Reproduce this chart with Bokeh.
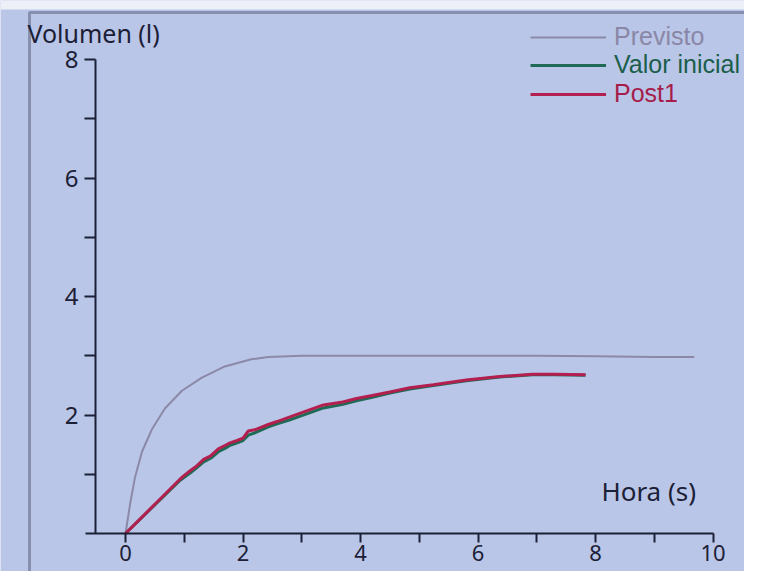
from bokeh.plotting import figure
from bokeh.models import Range1d, FixedTicker, Legend, LegendItem, Label, BoxAnnotation
from bokeh.embed import file_html
from bokeh.resources import INLINE

# ---- data ----
t_prev = [0, 0.08, 0.16, 0.28, 0.45, 0.67, 0.96, 1.30, 1.69, 2.14, 2.43, 3.0, 4.0,
          5.0, 6.0, 7.0, 8.0, 9.0, 9.68]
v_prev = [0, 0.51, 0.94, 1.38, 1.76, 2.11, 2.41, 2.63, 2.82, 2.94, 2.98, 3.0, 3.0,
          3.0, 3.0, 3.0, 2.99, 2.98, 2.98]

t_meas = [0, 0.93, 1.0, 1.1, 1.2, 1.33, 1.45, 1.58, 1.7, 1.78, 1.9, 2.0, 2.09, 2.2,
          2.43, 2.58, 2.8, 3.0, 3.37, 3.7, 3.93, 4.2, 4.5, 4.84, 5.24, 5.8, 6.37,
          6.93, 7.3, 7.83]
v_post = [0, 0.92, 0.98, 1.06, 1.13, 1.25, 1.31, 1.43, 1.49, 1.53, 1.57, 1.61, 1.73,
          1.75, 1.84, 1.89, 1.97, 2.04, 2.17, 2.22, 2.28, 2.33, 2.39, 2.46, 2.51,
          2.59, 2.65, 2.69, 2.69, 2.68]
v_init = [0, 0.90, 0.95, 1.02, 1.10, 1.21, 1.27, 1.38, 1.44, 1.49, 1.53, 1.57, 1.66,
          1.70, 1.80, 1.85, 1.92, 1.99, 2.12, 2.18, 2.24, 2.30, 2.37, 2.44, 2.50,
          2.58, 2.64, 2.68, 2.68, 2.67]

series_names = ["Previsto", "Valor inicial", "Post1"]
x_major = [0, 2, 4, 6, 8, 10]
x_minor = [1, 3, 5, 7, 9]
y_major = [2, 4, 6, 8]
y_minor = [1, 3, 5, 7]

FONT = "Noto Sans"
LEG_FONT = "Liberation Sans"
INK = "#1c2036"
BG = "#b9c6e8"

p = figure(width=744, height=571,
           x_range=Range1d(-2.128, 10.536), y_range=Range1d(-0.641, 8.996),
           min_border=0, output_backend="svg", toolbar_location=None)
p.background_fill_color = BG
p.border_fill_color = BG
p.outline_line_color = None
p.grid.visible = False

for ax in (p.xaxis, p.yaxis):
    ax.axis_line_color = INK
    ax.axis_line_width = 2
    ax.major_tick_line_color = INK
    ax.minor_tick_line_color = INK
    ax.major_tick_line_width = 2
    ax.minor_tick_line_width = 2
    ax.major_tick_in = 0
    ax.minor_tick_in = 0
    ax.major_label_text_font = FONT
    ax.major_label_text_color = INK

p.xaxis.ticker = FixedTicker(ticks=x_major, minor_ticks=x_minor)
p.xaxis.fixed_location = 0
p.xaxis.bounds = (-0.68, 10)
p.xaxis.major_tick_out = 9
p.xaxis.minor_tick_out = 9
p.xaxis.major_label_standoff = 2
p.xaxis.major_label_text_font_size = "22px"

p.yaxis.ticker = FixedTicker(ticks=y_major, minor_ticks=y_minor)
p.yaxis.fixed_location = -0.51
p.yaxis.bounds = (0, 8)
p.yaxis.major_tick_out = 11
p.yaxis.minor_tick_out = 11
p.yaxis.major_label_standoff = 6
p.yaxis.major_label_text_font_size = "24px"

# paper edge and printed frame
p.add_layout(BoxAnnotation(left=0, right=744, top=0, bottom=9,
                           left_units="canvas", right_units="canvas",
                           top_units="canvas", bottom_units="canvas",
                           fill_color="#eef0f7", fill_alpha=1, line_alpha=0))
p.add_layout(BoxAnnotation(left=29, right=900, top=12, bottom=900,
                           left_units="canvas", right_units="canvas",
                           top_units="canvas", bottom_units="canvas",
                           fill_alpha=0, line_color="#15172a", line_width=3))

r_prev = p.line(t_prev, v_prev, line_color="#8c89a8", line_width=2)
r_init = p.line(t_meas, v_init, line_color="#1f6a55", line_width=3)
r_post = p.line(t_meas, v_post, line_color="#b31f4e", line_width=3)

leg_specs = [(series_names[0], r_prev, "#8a87a6", 520),
             (series_names[1], r_init, "#1b5e4b", 492),
             (series_names[2], r_post, "#a51d48", 463)]
for name, rend, col, ypos in leg_specs:
    leg = Legend(items=[LegendItem(label=name, renderers=[rend])],
                 location=(530, ypos), border_line_color=None,
                 background_fill_alpha=0, padding=0, margin=0, spacing=0,
                 glyph_width=76, glyph_height=26, label_height=26,
                 label_standoff=8, label_text_font=LEG_FONT,
                 label_text_font_size="25px", label_text_color=col)
    p.add_layout(leg)

p.add_layout(Label(x=-1.67, y=8.44, text="Volumen (l)", text_font=FONT,
                   text_font_size="25px", text_color=INK,
                   text_baseline="middle", text_align="left"))
p.add_layout(Label(x=8.10, y=0.72, text="Hora (s)", text_font=FONT,
                   text_font_size="26px", text_color=INK,
                   text_baseline="middle", text_align="left"))

open("out.html", "w").write(file_html(p, INLINE))
